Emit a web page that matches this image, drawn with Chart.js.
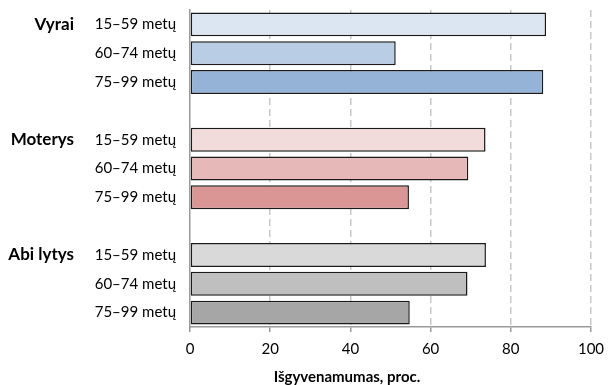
<!DOCTYPE html>
<html>
<head>
<meta charset="utf-8">
<script src="https://cdn.jsdelivr.net/npm/chart.js"></script>
<style>
    html, body { margin: 0; padding: 0; background: #fff; }
    .chart-box { width: 609px; height: 385px; position: relative; }
</style>
</head>
<body>
<div class="chart-box">
    <canvas id="survivalChart"></canvas>
</div>

<script>
    // Data
    const groups = ["Vyrai", "Moterys", "Abi lytys"];
    const ageBands = ["15\u201359 met\u0173", "60\u201374 met\u0173", "75\u201399 met\u0173"];
    const menValues = [88.8, 51.3, 88.1];
    const womenValues = [73.7, 69.4, 54.6];
    const allValues = [73.8, 69.2, 54.8];
    const xTicks = [0, 20, 40, 60, 80, 100];
    const axisTitle = "I\u0161gyvenamumas, proc.";

    const menColors = ["#dce6f2", "#b9cde5", "#95b3d7"];
    const womenColors = ["#f2dcdb", "#e6b9b8", "#d99694"];
    const allColors = ["#d9d9d9", "#bfbfbf", "#a6a6a6"];

    // Build the category axis with an empty slot between groups
    const labels = [];
    const values = [];
    const colors = [];
    const groupStart = [];
    [[menValues, menColors], [womenValues, womenColors], [allValues, allColors]].forEach(([vals, cols], g) => {
        if (g > 0) { labels.push(""); values.push(null); colors.push("transparent"); }
        groupStart.push(labels.length);
        vals.forEach((v, i) => { labels.push(ageBands[i]); values.push(v); colors.push(cols[i]); });
    });

    const fontFamily = "Lato, 'Open Sans', sans-serif";

    // Group names and axis title drawn next to the scales
    const extraText = {
        id: 'extraText',
        afterDraw(chart) {
            const ctx = chart.ctx;
            const y = chart.scales.y;
            ctx.save();
            ctx.fillStyle = '#000';
            ctx.font = `bold 17px ${fontFamily}`;
            ctx.textAlign = 'right';
            ctx.textBaseline = 'middle';
            groups.forEach((name, g) => {
                ctx.fillText(name, 74, y.getPixelForValue(groupStart[g]));
            });
            ctx.font = `bold 15px ${fontFamily}`;
            ctx.textAlign = 'center';
            ctx.fillText(axisTitle, 347, 377);
            ctx.restore();
        }
    };

    new Chart(document.getElementById('survivalChart'), {
        type: 'bar',
        data: {
            labels: labels,
            datasets: [{
                data: values,
                backgroundColor: colors,
                borderColor: '#1a1a1a',
                borderWidth: 1.5,
                borderSkipped: false,
                barPercentage: 0.83,
                categoryPercentage: 1.0
            }]
        },
        options: {
            indexAxis: 'y',
            responsive: true,
            maintainAspectRatio: false,
            animation: false,
            layout: { padding: { top: 10, right: 18, left: 0, bottom: 0 } },
            plugins: { legend: { display: false }, tooltip: { enabled: false } },
            scales: {
                x: {
                    min: 0,
                    max: 100,
                    afterBuildTicks: (scale) => { scale.ticks = xTicks.map(v => ({ value: v })); },
                    afterFit: (scale) => {
                        scale.height = 58;
                        scale.paddingLeft = 0;
                        scale.paddingRight = 0;
                    },
                    grid: {
                        color: (c) => c.tick && c.tick.value === 0 ? 'transparent' : '#c8c8c8',
                        lineWidth: 1.5,
                        tickColor: '#9a9a9a',
                        tickLength: 5,
                        tickBorderDash: []
                    },
                    border: { color: '#9a9a9a', width: 1.5, dash: [7, 4] },
                    ticks: { color: '#000', font: { family: fontFamily, size: 15 }, padding: 8 }
                },
                y: {
                    afterFit: (scale) => {
                        scale.width = 190;
                        scale.paddingTop = 0;
                        scale.paddingBottom = 0;
                    },
                    grid: { drawOnChartArea: false, drawTicks: false },
                    border: { color: '#9a9a9a', width: 1.5 },
                    ticks: { color: '#000', font: { family: fontFamily, size: 15 }, padding: 14, autoSkip: false }
                }
            }
        },
        plugins: [extraText]
    });
</script>
</body>
</html>
